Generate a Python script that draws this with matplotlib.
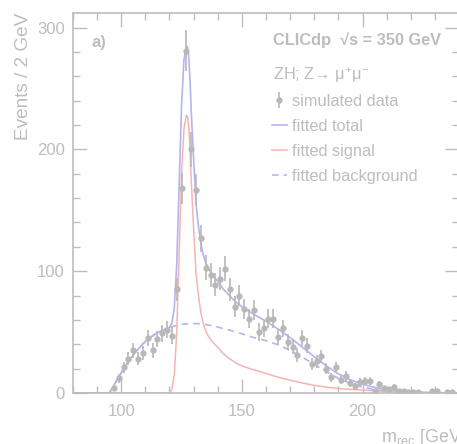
import numpy as np
import matplotlib.pyplot as plt

plt.rcParams['font.family'] = ['Liberation Sans', 'DejaVu Sans']
plt.rcParams['mathtext.fontset'] = 'custom'
plt.rcParams['mathtext.rm'] = 'Liberation Sans'
plt.rcParams['mathtext.it'] = 'Liberation Sans:italic'

# simulated data, 2 GeV bins
bin_centers = np.arange(97, 241, 2)
counts = np.array([4, 12, 21, 28, 35, 28, 33, 45, 35, 44, 49, 52, 47, 85,
                   168, 281, 200, 167, 127, 103, 97, 89, 94, 102, 85, 71,
                   80, 69, 61, 68, 50, 53, 61, 61, 46, 53, 42, 38, 31, 45,
                   39, 24, 26, 30, 20, 13, 21, 11, 14, 8, 6, 9, 10, 10, 2,
                   7, 4, 3, 5, 2, 2, 1, 1, 1, 0, 0, 2, 2, 0, 1, 1, 0])

# fitted curves
curve_x = [80, 94, 95, 96, 97, 99, 101, 103, 105, 107, 109, 111, 113, 115,
           117, 119, 120, 121, 122, 123, 124, 125, 126, 127, 127.5, 128,
           128.5, 129, 130, 131, 132, 133, 134, 135, 136, 137, 138, 140,
           142, 145, 148, 151, 155, 160, 165, 170, 175, 180, 185, 190, 195,
           200, 205, 210, 215, 220, 230, 240]
background = [0, 0, 0, 3, 6.5, 13, 20, 26, 31.5, 36, 40.5, 44, 47, 49.5,
              51.5, 53, 53.7, 54.4, 55, 55.5, 56, 56.3, 56.6, 56.8, 56.9, 57,
              57, 57, 57, 57, 56.9, 56.7, 56.5, 56.2, 55.8, 55.5, 55.1, 54.2,
              53, 51.6, 49.8, 48, 45.5, 43, 39.5, 35, 29.5, 23.5, 17.5, 12,
              7.8, 4.8, 2.8, 1.5, 0.8, 0.4, 0.1, 0]
signal = [0, 0, 0, 0, 0, 0, 0, 0, 0, 0, 0, 0, 0, 0,
          0, 0, 0.3, 3, 15, 50, 115, 180, 217, 228, 227, 218,
          200, 175, 135, 98, 80, 66, 57, 51, 47, 44, 41.5, 37.5,
          33, 28, 24, 21.5, 19, 16, 13, 10.5, 8.2, 6.3, 4.8, 3.7, 3,
          2.4, 1.8, 1.3, 0.9, 0.5, 0.15, 0]
total = np.array(background) + np.array(signal)

gray = '#bdbdbd'
blue = '#b4b4f0'
red = '#f4b4b4'

fig = plt.figure(figsize=(4.57, 4.44), dpi=100)
ax = fig.add_axes([73 / 457, 1 - 393 / 444, (459 - 73) / 457, (393 - 13) / 444])

bg_line, = ax.plot(curve_x, background, color=blue, lw=1.2, ls=(0, (4, 3)))
sig_line, = ax.plot(curve_x, signal, color=red, lw=1.1)
tot_line, = ax.plot(curve_x, total, color=blue, lw=1.2)

show = counts > 0
data = ax.errorbar(bin_centers[show], counts[show], yerr=np.sqrt(counts[show]),
                   fmt='o', ms=3.5, color='#b8b8b8', elinewidth=1.2, capsize=0)

ax.set_xlim(80, 240)
ax.set_ylim(0, 312)
ax.set_xticks([100, 150, 200])
ax.set_xticks(np.arange(80, 241, 10), minor=True)
ax.set_yticks([0, 100, 200, 300])
ax.set_yticks(np.arange(0, 312, 20), minor=True)
ax.tick_params(which='both', direction='in', top=True, right=True,
               color=gray, labelcolor=gray, labelsize=12)
ax.tick_params(which='major', length=10, width=1)
ax.tick_params(which='minor', length=5, width=1)
ax.tick_params(axis='x', pad=8)
ax.tick_params(axis='y', pad=6)
for s in ax.spines.values():
    s.set_color(gray)
    s.set_linewidth(1.2)

fig.text(24 / 457, 1 - 13 / 444, 'Events / 2 GeV', rotation=90, ha='center',
         va='top', fontsize=13.7, color=gray)
fig.text(466 / 457, 1 - 437 / 444, r'm$_{\rm rec}$ [GeV]', ha='right',
         va='center', fontsize=13, color=gray)
fig.text(92 / 457, 1 - 42 / 444, 'a)', fontsize=12, fontweight='bold',
         color=gray, va='center')
fig.text(273 / 457, 1 - 40 / 444, 'CLICdp  √s = 350 GeV', fontsize=11.8,
         fontweight='bold', color=gray, va='center')
fig.text(273 / 457, 1 - 75 / 444, r'ZH; Z→ μ$^{+}$μ$^{-}$',
         fontsize=11.8, color=gray, va='center')

handles = [data, tot_line, sig_line, bg_line]
labels = ['simulated data', 'fitted total', 'fitted signal', 'fitted background']
leg = fig.legend(handles, labels, loc='upper left',
                 bbox_to_anchor=(272 / 457, 1 - 94 / 444), frameon=False,
                 fontsize=11.8, handlelength=0.9, handletextpad=0.3,
                 labelspacing=0.6, borderpad=0, borderaxespad=0)
for t in leg.get_texts():
    t.set_color(gray)

fig.savefig('out.png', dpi=100)
